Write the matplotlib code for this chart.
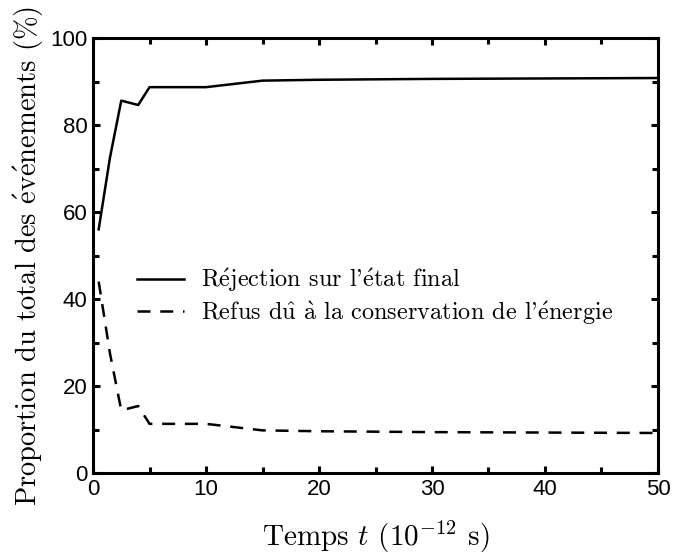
import matplotlib
matplotlib.use("Agg")
import matplotlib.pyplot as plt
from matplotlib.ticker import MultipleLocator

# Time axis (10^-12 s)
temps = [0.5, 1.5, 2.5, 4, 5, 10, 15, 20, 25, 30, 40, 50]
# Rejection on the final state (%)
rejection = [56.0, 72.5, 85.6, 84.6, 88.7, 88.7, 90.2, 90.4, 90.5, 90.6, 90.7, 90.8]
# Refusal due to energy conservation (%)
refus = [44.0, 27.5, 14.4, 15.4, 11.3, 11.3, 9.8, 9.6, 9.5, 9.4, 9.3, 9.2]

serif = ["cmr10", "DejaVu Serif"]
plt.rcParams["mathtext.fontset"] = "cm"
plt.rcParams["axes.unicode_minus"] = False

# accented letters go through mathtext so they stay in Computer Modern
e_acute = r"$\acute{\mathrm{e}}$"
lab_rej = "R" + e_acute + "jection sur l'" + e_acute + "tat final"
lab_ref = (r"Refus d$\hat{\mathrm{u}}$ $\grave{\mathrm{a}}$ la conservation de l'"
           + e_acute + "nergie")
ylab = "Proportion du total des " + e_acute + "v" + e_acute + "nements (%)"

fig = plt.figure(figsize=(6.75, 5.54), dpi=100)
ax = fig.add_axes([0.1378, 0.1462, 0.837, 0.7852])

ax.plot(temps, rejection, color="black", lw=1.8, label=lab_rej)
ax.plot(temps, refus, color="black", lw=1.8, dashes=(5.2, 3.9), label=lab_ref)

ax.set_xlim(0, 50)
ax.set_ylim(0, 100)
ax.xaxis.set_major_locator(MultipleLocator(10))
ax.xaxis.set_minor_locator(MultipleLocator(5))
ax.yaxis.set_major_locator(MultipleLocator(20))
ax.yaxis.set_minor_locator(MultipleLocator(10))
ax.tick_params(which="both", direction="in", top=True, right=True, width=2.2,
               labelsize=16, pad=4)
ax.tick_params(which="major", length=5)
ax.tick_params(which="minor", length=4)
for lab in ax.get_xticklabels() + ax.get_yticklabels():
    lab.set_family("Liberation Sans")
for sp in ax.spines.values():
    sp.set_linewidth(2.2)

ax.set_xlabel(r"Temps $t$ ($10^{-12}$ s)", family=serif, fontsize=21, labelpad=14)
ax.set_ylabel(ylab, family=serif, fontsize=20.5, labelpad=3)

leg = ax.legend(loc="center left", bbox_to_anchor=(0.04, 0.405), frameon=False,
                handlelength=1.9, handletextpad=0.7, labelspacing=0.2,
                prop={"family": serif, "size": 17.5})

fig.savefig("out.png", dpi=100)
